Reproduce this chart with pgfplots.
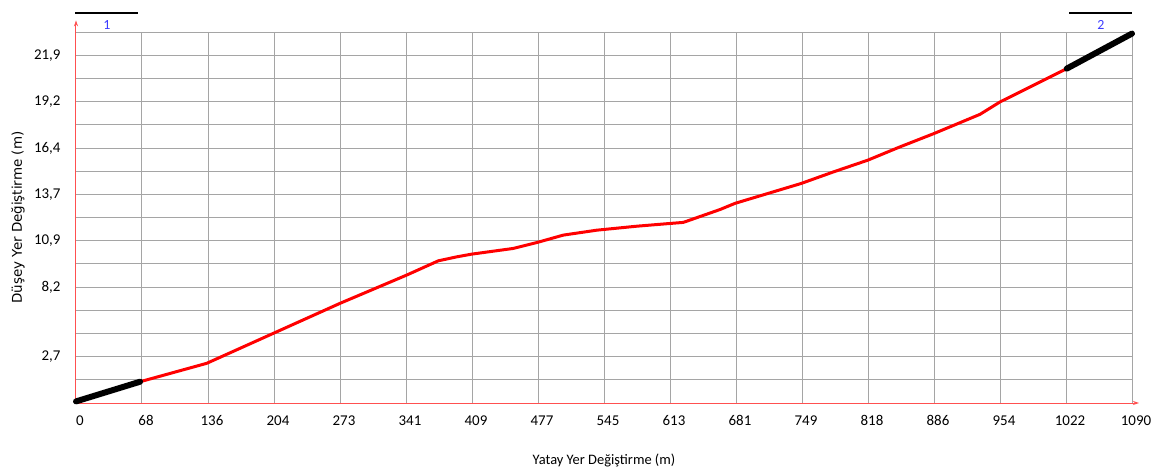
\documentclass[border=0pt]{standalone}
\usepackage{fontspec}
\setmainfont{Carlito}
\newfontfamily\dejavu{DejaVu Sans}
\usepackage{pgfplots}
\pgfplotsset{compat=1.18}
\usetikzlibrary{arrows.meta}
\definecolor{axred}{RGB}{255,80,80}
\definecolor{gridgray}{RGB}{165,165,165}
\definecolor{lblue}{RGB}{60,60,255}
\begin{document}
\begin{tikzpicture}
\begin{axis}[
  at={(0,0)}, anchor=south west,
  scale only axis, width=1056bp, height=370.7bp,
  xmin=0, xmax=1090, ymin=0, ymax=23.36,
  axis x line=bottom, axis y line=left,
  x axis line style={draw=axred, line width=1bp, -{Stealth[length=6bp,width=4bp]}, shorten >=-7bp},
  y axis line style={draw=axred, line width=1bp, -{Stealth[length=6bp,width=4bp]}, shorten >=-12bp},
  xtick={0,68.125,136.25,204.375,272.5,340.625,408.75,476.875,545,613.125,681.25,749.375,817.5,885.625,953.75,1021.875,1090},
  xticklabels={0,68,136,204,273,341,409,477,545,613,681,749,818,886,954,1022,1090},
  ytick={0,1.46,2.92,4.38,5.84,7.3,8.76,10.22,11.68,13.14,14.6,16.06,17.52,18.98,20.44,21.9,23.36},
  yticklabels={,,{2,7},,,{8,2},,{10,9},,{13,7},,{16,4},,{19,2},,{21,9},},
  major tick length=0,
  grid=major, major grid style={draw=gridgray, line width=1bp},
  tick label style={font=\fontsize{15}{17}\selectfont},
  xticklabel style={yshift=-9bp, xshift=4bp},
  yticklabel style={xshift=-12bp},
  xlabel={Yatay Yer Değiştirme (m)},
  ylabel={Düşey Yer Değiştirme (m)},
  xlabel style={font=\fontsize{14.5}{17}\selectfont, at={([yshift=-57bp]axis description cs:0.5,0)}, anchor=center},
  ylabel style={font=\dejavu\fontsize{13.5}{16}\selectfont, at={([xshift=-58bp]axis description cs:0,0.5)}, anchor=center},
  clip=false,
]
\addplot[red, line width=3bp, line join=round] coordinates {
(66.1,1.34) (134.9,2.50) (203.7,4.39) (272.5,6.28) (341.3,8.06) (374,8.96) (393,9.21)
(408.4,9.38) (451.4,9.74) (476.2,10.12) (503,10.58) (537.5,10.89) (578.7,11.14)
(612.4,11.31) (626.8,11.38) (664.7,12.19) (680.2,12.58) (748.3,13.83) (781.7,14.56)
(817.2,15.30) (850.5,16.14) (885.6,16.98) (933.1,18.19) (953.7,18.97) (1022.6,21.07)
};
\addplot[black, line width=6bp, line cap=round] coordinates {(0,0.1) (66.1,1.34)};
\addplot[black, line width=6bp, line cap=round] coordinates {(1022.6,21.07) (1090,23.28)};
\addplot[black, line width=2bp] coordinates {(-1,24.6) (64,24.6)};
\addplot[black, line width=2bp] coordinates {(1025,24.6) (1089.7,24.6)};
\node[text=lblue, font=\fontsize{14}{15}\selectfont, fill=white, inner sep=1bp] at (axis cs:32,23.8) {1};
\node[text=lblue, font=\fontsize{14}{15}\selectfont, fill=white, inner sep=1bp] at (axis cs:1058,23.8) {2};
\end{axis}
\pgfresetboundingbox
\useasboundingbox (-76bp,-65bp) rectangle (1076bp,403bp);
\end{tikzpicture}
\end{document}
